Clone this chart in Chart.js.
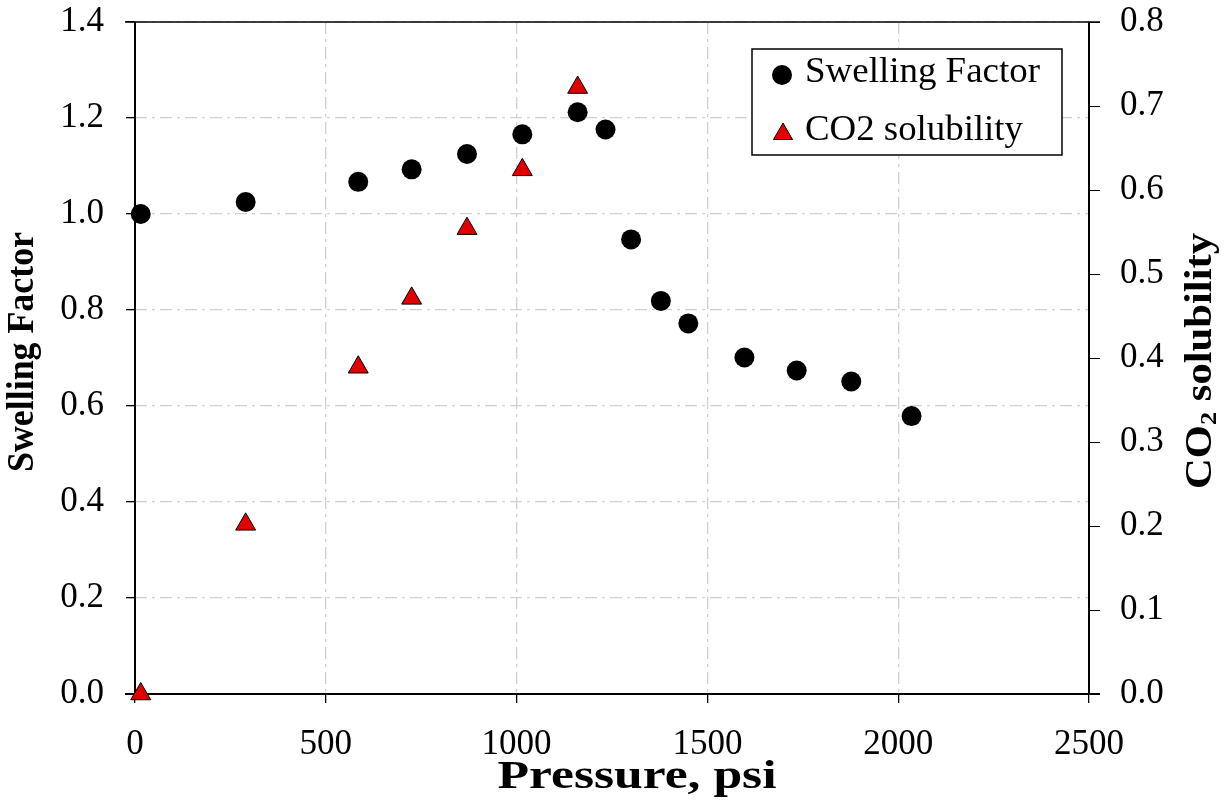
<!DOCTYPE html>
<html lang="en">
<head>
    <meta charset="UTF-8">
    <title>Swelling Factor and CO2 solubility vs Pressure</title>
    <script src="https://cdn.jsdelivr.net/npm/chart.js"></script>
    <style>
        body { margin: 0; background: #fff; }
        canvas { display: block; }
    </style>
</head>
<body>

<canvas id="myChart" width="1225" height="810"></canvas>

<script>
    // valores
    const swellPressure = [15, 290, 585, 725, 870, 1015, 1160, 1233, 1300, 1378, 1450, 1597, 1734, 1877, 2035];
    const swellFactor   = [1.000, 1.025, 1.067, 1.093, 1.125, 1.166, 1.212, 1.176, 0.947, 0.819, 0.772, 0.701, 0.674, 0.651, 0.579];

    const co2Pressure   = [15, 290, 585, 725, 870, 1015, 1160];
    const co2Solubility = [0.000, 0.202, 0.389, 0.471, 0.554, 0.624, 0.722];

    const xTicks  = [0, 500, 1000, 1500, 2000, 2500];
    const yLeftMax  = 1.4;
    const yRightMax = 0.8;

    const serif = "'Liberation Serif', 'Times New Roman', serif";
    const gridColor = '#d0d0d0';
    const gridDash = [12, 5, 3, 5];

    function toPoints(xs, ys) {
        return xs.map((x, i) => ({ x: x, y: ys[i] }));
    }

    // escreve o texto com a fonte dada, esticado até à largura pedida
    function stretchText(ctx, text, font, width) {
        ctx.font = font;
        const k = width / ctx.measureText(text).width;
        ctx.save();
        ctx.scale(k, 1);
        ctx.fillText(text, 0, 0);
        ctx.restore();
    }

    // bordas, títulos dos eixos e legenda
    const extrasPlugin = {
        id: 'extras',
        beforeDatasetsDraw(chart) {
            const { ctx, chartArea: a } = chart;
            ctx.save();
            ctx.strokeStyle = '#000';
            ctx.lineWidth = 2;
            ctx.beginPath();
            ctx.moveTo(a.left, a.top); ctx.lineTo(a.left, a.bottom);
            ctx.moveTo(a.left - 10, a.bottom); ctx.lineTo(a.right + 11, a.bottom);
            ctx.moveTo(a.right, a.top); ctx.lineTo(a.right, a.bottom);
            ctx.stroke();
            ctx.lineWidth = 1.5;
            ctx.beginPath();
            ctx.moveTo(a.left - 10, a.top); ctx.lineTo(a.right + 11, a.top);
            ctx.stroke();
            ctx.restore();
        },
        afterDraw(chart) {
            const { ctx } = chart;
            ctx.save();
            ctx.fillStyle = '#000';
            ctx.textBaseline = 'middle';
            ctx.textAlign = 'center';

            ctx.save();
            ctx.translate(637, 777);
            stretchText(ctx, 'Pressure, psi', 'bold 41px ' + serif, 279);
            ctx.restore();

            ctx.save();
            ctx.translate(23, 352);
            ctx.rotate(-Math.PI / 2);
            stretchText(ctx, 'Swelling Factor', 'bold 37px ' + serif, 240);
            ctx.restore();

            // CO2 com subscrito
            const size = 37;
            ctx.save();
            ctx.translate(1201, 361);
            ctx.rotate(-Math.PI / 2);
            ctx.textAlign = 'left';
            const big = 'bold ' + size + 'px ' + serif, small = 'bold ' + Math.round(size * 0.62) + 'px ' + serif;
            ctx.font = big;
            const w1 = ctx.measureText('CO').width;
            const w3 = ctx.measureText(' solubility').width;
            ctx.font = small;
            const w2 = ctx.measureText('2').width;
            const k = 256 / (w1 + w2 + w3);
            ctx.scale(k, 1);
            let x = -(w1 + w2 + w3) / 2;
            ctx.font = big;
            ctx.fillText('CO', x, 0); x += w1;
            ctx.font = small;
            ctx.fillText('2', x, size * 0.25); x += w2;
            ctx.font = big;
            ctx.fillText(' solubility', x, 0);
            ctx.restore();

            // legenda
            ctx.fillStyle = '#fff';
            ctx.fillRect(752, 49, 310, 106);
            ctx.strokeStyle = '#000';
            ctx.lineWidth = 1.5;
            ctx.strokeRect(752, 49, 310, 106);

            ctx.fillStyle = '#000';
            ctx.beginPath();
            ctx.arc(782, 75, 10, 0, Math.PI * 2);
            ctx.fill();

            const r = 11;
            ctx.beginPath();
            ctx.moveTo(783, 134 - r);
            ctx.lineTo(783 + r * 0.866, 134 + r / 2);
            ctx.lineTo(783 - r * 0.866, 134 + r / 2);
            ctx.closePath();
            ctx.fillStyle = '#e00000';
            ctx.fill();
            ctx.strokeStyle = '#000';
            ctx.lineWidth = 1;
            ctx.stroke();

            ctx.fillStyle = '#000';
            ctx.textAlign = 'left';
            ctx.textBaseline = 'middle';
            ctx.save();
            ctx.translate(805, 73);
            stretchText(ctx, 'Swelling Factor', '36px ' + serif, 235);
            ctx.restore();
            ctx.save();
            ctx.translate(805, 131);
            stretchText(ctx, 'CO2 solubility', '36px ' + serif, 218);
            ctx.restore();
            ctx.restore();
        }
    };

    function createChart() {
        const ctx = document.getElementById('myChart').getContext('2d');

        new Chart(ctx, {
            type: 'scatter',
            data: {
                datasets: [{
                    label: 'Swelling Factor',
                    data: toPoints(swellPressure, swellFactor),
                    yAxisID: 'y',
                    pointStyle: 'circle',
                    pointRadius: 10,
                    backgroundColor: '#000',
                    borderColor: '#000',
                    borderWidth: 0,
                    clip: false
                }, {
                    label: 'CO2 solubility',
                    data: toPoints(co2Pressure, co2Solubility),
                    yAxisID: 'y1',
                    pointStyle: 'triangle',
                    pointRadius: 11.5,
                    backgroundColor: '#e00000',
                    borderColor: '#000',
                    borderWidth: 1,
                    clip: false
                }]
            },
            options: {
                responsive: false,
                animation: false,
                layout: { padding: { top: 22, left: 0, right: 0, bottom: 0 } },
                plugins: {
                    legend: { display: false },
                    tooltip: { enabled: false }
                },
                scales: {
                    x: {
                        type: 'linear',
                        min: 0,
                        max: 2500,
                        afterBuildTicks: s => { s.ticks = xTicks.map(v => ({ value: v })); },
                        afterFit: s => { s.height = 116; s.paddingLeft = 0; s.paddingRight = 0; },
                        grid: { color: gridColor, tickColor: '#000', tickLength: 9, lineWidth: 1.3 },
                        border: { display: false, dash: gridDash },
                        ticks: {
                            color: '#000', font: { family: serif, size: 35 }, padding: 21, maxRotation: 0,
                            callback: v => String(v)
                        }
                    },
                    y: {
                        position: 'left',
                        min: 0,
                        max: yLeftMax,
                        afterFit: s => { s.width = 135; s.paddingTop = 0; s.paddingBottom = 0; },
                        grid: { color: gridColor, tickColor: '#000', tickLength: 9, lineWidth: 1.3 },
                        border: { display: false, dash: gridDash },
                        ticks: {
                            stepSize: 0.2, color: '#000', padding: 22,
                            font: { family: serif, size: 35 },
                            callback: v => v.toFixed(1)
                        }
                    },
                    y1: {
                        position: 'right',
                        min: 0,
                        max: yRightMax,
                        afterFit: s => { s.width = 136; s.paddingTop = 0; s.paddingBottom = 0; },
                        grid: { drawOnChartArea: false, tickColor: '#000', tickLength: 11 },
                        border: { display: false },
                        ticks: {
                            stepSize: 0.1, color: '#000', padding: 20,
                            font: { family: serif, size: 35 },
                            callback: v => v.toFixed(1)
                        }
                    }
                }
            },
            plugins: [extrasPlugin]
        });
    }

    document.addEventListener('DOMContentLoaded', createChart);
</script>

</body>
</html>
